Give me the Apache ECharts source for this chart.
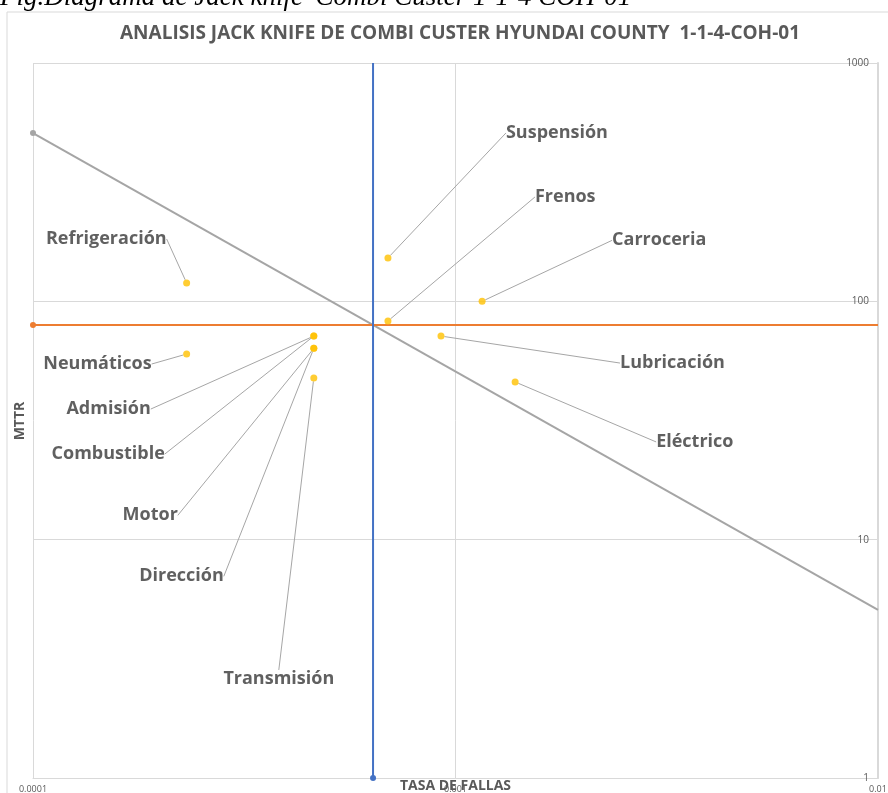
<!DOCTYPE html>
<html>
<head>
<meta charset="utf-8">
<script src="https://cdn.jsdelivr.net/npm/echarts@6/dist/echarts.min.js"></script>
<style>
  html, body { margin: 0; padding: 0; background: #fff; }
  #chart { width: 888px; height: 793px; }
</style>
</head>
<body>
<div id="chart"></div>
<script>
// components (yellow points)
const categories = ['Suspensión', 'Frenos', 'Carroceria', 'Refrigeración', 'Neumáticos', 'Admisión',
  'Combustible', 'Motor', 'Dirección', 'Transmisión', 'Lubricación', 'Eléctrico']
const failureRate = [6.92e-4, 6.92e-4, 1.156e-3, 2.31e-4, 2.31e-4, 4.62e-4,
  4.62e-4, 4.62e-4, 4.62e-4, 4.62e-4, 9.24e-4, 1.384e-3]
const mttr = [152, 82.7, 100, 119.4, 60.1, 71.5, 71.5, 63.5, 63.5, 47.7, 71.5, 45.9]

// threshold lines
const mttrLimit = 79.5
const rateLimit = 6.38e-4
const availabilityLine = [[1e-4, 508], [1e-2, 5.08]]

const xTickLabels = { '0.0001': '0.0001', '0.001': '0.001', '0.01': '0.01' }
const yTickLabels = { '1': '1', '10': '10', '100': '100', '1000': '1000' }

// label placement relative to each point (dx, dy, align)
const labelOffsets = {
  'Suspensión': [112, -125, 'left'],
  'Frenos': [141, -124, 'left'],
  'Carroceria': [124, -61, 'left'],
  'Refrigeración': [-14, -44, 'right'],
  'Neumáticos': [-29, 10, 'right'],
  'Admisión': [-157, 73, 'right'],
  'Combustible': [-143, 118, 'right'],
  'Motor': [-130, 167, 'right'],
  'Dirección': [-84, 228, 'right'],
  'Transmisión': [-35, 301, 'center'],
  'Lubricación': [173, 27, 'left'],
  'Eléctrico': [135, 60, 'left']
}

const chart = echarts.init(document.getElementById('chart'))

const points = categories.map((name, i) => ({ name, value: [failureRate[i], mttr[i]] }))

const refLine = (data, color, markerIndex) => ({
  type: 'line',
  data: data.map((d, i) => ({ value: d, symbol: i === markerIndex ? 'circle' : 'none' })),
  symbolSize: 6,
  itemStyle: { color },
  lineStyle: { color, width: 2 },
  clip: false,
  silent: true,
  z: 1
})

const option = {
  backgroundColor: '#fff',
  animation: false,
  title: {
    text: 'ANALISIS JACK KNIFE DE COMBI CUSTER HYUNDAI COUNTY  1-1-4-COH-01',
    left: 455,
    textAlign: 'center',
    top: 19,
    textStyle: { fontFamily: 'Open Sans', fontSize: 19, fontWeight: 'bold', color: '#595959' }
  },
  graphic: [
    {
      type: 'rect',
      shape: { x: 7, y: 12, width: 900, height: 800 },
      style: { fill: 'none', stroke: '#D9D9D9', lineWidth: 1 },
      silent: true
    },
    {
      type: 'text',
      left: 0,
      top: -16,
      style: {
        text: "Fig.Diagrama de Jack knife 'Combi Custer 1-1-4 COH-01",
        font: 'italic 27px "Liberation Serif"',
        fill: '#000'
      }
    },
    {
      type: 'text',
      x: 20,
      y: 421,
      rotation: Math.PI / 2,
      style: {
        text: 'MTTR',
        font: 'bold 14px "Open Sans"',
        fill: '#595959',
        align: 'center',
        verticalAlign: 'middle'
      }
    }
  ],
  grid: { left: 33, right: 10, top: 63, bottom: 15, outerBoundsMode: 'none', containLabel: false },
  xAxis: {
    type: 'log',
    logBase: 10,
    min: 0.0001,
    max: 0.01,
    name: 'TASA DE FALLAS',
    nameLocation: 'middle',
    nameGap: 1,
    nameMoveOverlap: false,
    nameTextStyle: { fontFamily: 'Open Sans', fontSize: 14, fontWeight: 'bold', color: '#595959', verticalAlign: 'top' },
    axisLine: { lineStyle: { color: '#D9D9D9', width: 1 } },
    axisTick: { show: false },
    axisLabel: {
      fontFamily: 'Open Sans',
      fontSize: 9,
      color: '#595959',
      margin: 7,
      formatter: v => xTickLabels[String(+v.toPrecision(3))] || ''
    },
    splitLine: { show: true, lineStyle: { color: '#D9D9D9', width: 1 } }
  },
  yAxis: {
    type: 'log',
    logBase: 10,
    min: 1,
    max: 1000,
    position: 'right',
    axisLine: { show: true, lineStyle: { color: '#D9D9D9', width: 2 } },
    axisTick: { show: false },
    axisLabel: {
      inside: true,
      fontFamily: 'Open Sans',
      fontSize: 10,
      color: '#595959',
      margin: 9,
      formatter: v => yTickLabels[String(Math.round(v))] || ''
    },
    splitLine: { show: true, lineStyle: { color: '#D9D9D9', width: 1 } }
  },
  series: [
    refLine(availabilityLine, '#A5A5A5', 0),
    refLine([[0.0001, mttrLimit], [0.01, mttrLimit]], '#ED7D31', 0),
    refLine([[rateLimit, 1], [rateLimit, 1000]], '#4472C4', 0),
    {
      type: 'scatter',
      data: points,
      symbolSize: 7,
      itemStyle: { color: '#FFC000' },
      z: 3,
      label: {
        show: true,
        formatter: '{b}',
        fontFamily: 'Open Sans',
        fontSize: 18,
        fontWeight: 'bold',
        color: '#383838',
        padding: [2, 6]
      },
      labelLine: { show: true, lineStyle: { color: '#A6A6A6', width: 1 } },
      labelLayout: params => {
        const o = labelOffsets[points[params.dataIndex].name]
        const cx = params.rect.x + params.rect.width / 2
        const cy = params.rect.y + params.rect.height / 2
        return { x: cx + o[0], y: cy + o[1], align: o[2], verticalAlign: 'middle' }
      }
    }
  ]
}

chart.setOption(option)
</script>
</body>
</html>
